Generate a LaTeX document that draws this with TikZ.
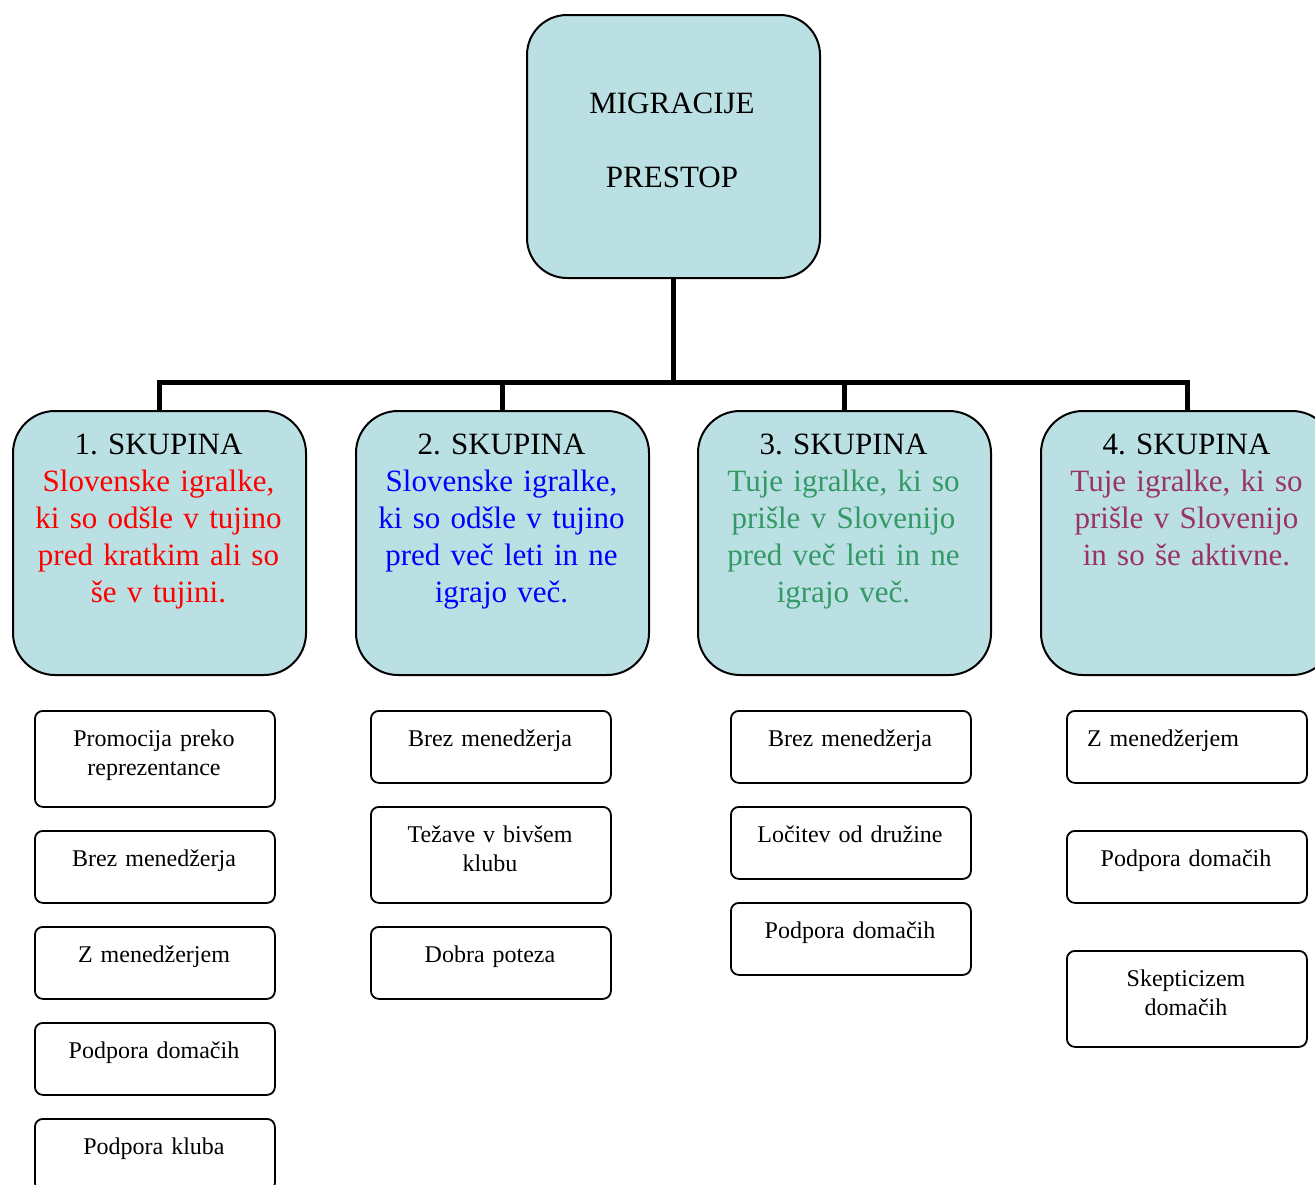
\documentclass[tikz,border=0pt]{standalone}
\usepackage{fontspec}
\setmainfont{Liberation Serif}
\frenchspacing
\definecolor{boxfill}{HTML}{BBE0E3}
\definecolor{grpred}{HTML}{FF0000}
\definecolor{grpblue}{HTML}{0000FF}
\definecolor{grpgreen}{HTML}{339966}
\definecolor{grppurple}{HTML}{993366}
\begin{document}
\begin{tikzpicture}[x=1pt,y=-1pt,
  topbox/.style={draw=black, line width=2pt, fill=boxfill, rounded corners=40pt,
    minimum width=293pt, minimum height=263pt, anchor=north west, inner sep=0pt},
  grpbox/.style={draw=black, line width=2pt, fill=boxfill, rounded corners=42pt,
    minimum width=293pt, minimum height=264pt, anchor=north west, inner sep=0pt},
  grptext/.style={anchor=base, inner sep=0pt, text width=290pt, align=center,
    font=\fontsize{31}{37}\selectfont\frenchspacing},
  toptext/.style={anchor=base, inner sep=0pt, font=\fontsize{31}{37}\selectfont},
  sbox/.style={draw=black, line width=1.8pt, rounded corners=8pt, fill=white,
    minimum width=240pt, anchor=north west, inner sep=0pt},
  sboxone/.style={sbox, minimum height=72pt},
  sboxtwo/.style={sbox, minimum height=96pt},
  stext/.style={anchor=base, inner sep=0pt, text width=235pt, align=center,
    font=\fontsize{24}{29}\selectfont\frenchspacing},
  conn/.style={draw=black, line width=5pt, line join=miter}
]
\useasboundingbox (0,0) rectangle (1315,1184);
\clip (0,0) rectangle (1315,1184);

% top box
\node[topbox] (top) at (526,14) {};
\node[toptext] (topa) at (672,113) {MIGRACIJE};
\node[toptext] (topb) at (672,187) {PRESTOP};

% group boxes
\node[grpbox] (g1) at (12,410) {};
\node[grpbox] (g2) at (355,410) {};
\node[grpbox] (g3) at (697,410) {};
\node[grpbox] (g4) at (1040,410) {};

% connectors
\coordinate (bus) at (672,382);
\draw[conn] (top.south) -- (top.south |- bus);
\draw[conn] (g1.north) -- (g1.north |- bus) -- (g4.north |- bus) -- (g4.north);
\draw[conn] (g2.north) -- (g2.north |- bus);
\draw[conn] (g3.north) -- (g3.north |- bus);

% group texts
\node[grptext] (t1) at (158.5,454) {1. SKUPINA\\\color{grpred}Slovenske igralke,\\ki so odšle v tujino\\pred kratkim ali so\\še v tujini.};
\node[grptext] (t2) at (501.5,454) {2. SKUPINA\\\color{grpblue}Slovenske igralke,\\ki so odšle v tujino\\pred več leti in ne\\igrajo več.};
\node[grptext] (t3) at (843.5,454) {3. SKUPINA\\\color{grpgreen}Tuje igralke, ki so\\prišle v Slovenijo\\pred več leti in ne\\igrajo več.};
\node[grptext] (t4) at (1186.5,454) {4. SKUPINA\\\color{grppurple}Tuje igralke, ki so\\prišle v Slovenijo\\in so še aktivne.};

% column 1
\node[sboxtwo] (a1) at (34,710) {};
\node[stext] (a1t) at (154,746) {Promocija preko\\reprezentance};
\node[sboxone] (a2) at (34,830) {};
\node[stext] (a2t) at (154,866) {Brez menedžerja};
\node[sboxone] (a3) at (34,926) {};
\node[stext] (a3t) at (154,962) {Z menedžerjem};
\node[sboxone] (a4) at (34,1022) {};
\node[stext] (a4t) at (154,1058) {Podpora domačih};
\node[sboxone] (a5) at (34,1118) {};
\node[stext] (a5t) at (154,1154) {Podpora kluba};

% column 2
\node[sboxone] (b1) at (370,710) {};
\node[stext] (b1t) at (490,746) {Brez menedžerja};
\node[sboxtwo] (b2) at (370,806) {};
\node[stext] (b2t) at (490,842) {Težave v bivšem\\klubu};
\node[sboxone] (b3) at (370,926) {};
\node[stext] (b3t) at (490,962) {Dobra poteza};

% column 3
\node[sboxone] (c1) at (730,710) {};
\node[stext] (c1t) at (850,746) {Brez menedžerja};
\node[sboxone] (c2) at (730,806) {};
\node[stext] (c2t) at (850,842) {Ločitev od družine};
\node[sboxone] (c3) at (730,902) {};
\node[stext] (c3t) at (850,938) {Podpora domačih};

% column 4
\node[sboxone] (d1) at (1066,710) {};
\node[stext] (d1t) at (1163,746) {Z menedžerjem};
\node[sboxone] (d2) at (1066,830) {};
\node[stext] (d2t) at (1186,866) {Podpora domačih};
\node[sboxtwo] (d3) at (1066,950) {};
\node[stext] (d3t) at (1186,986) {Skepticizem\\domačih};
\end{tikzpicture}
\end{document}
